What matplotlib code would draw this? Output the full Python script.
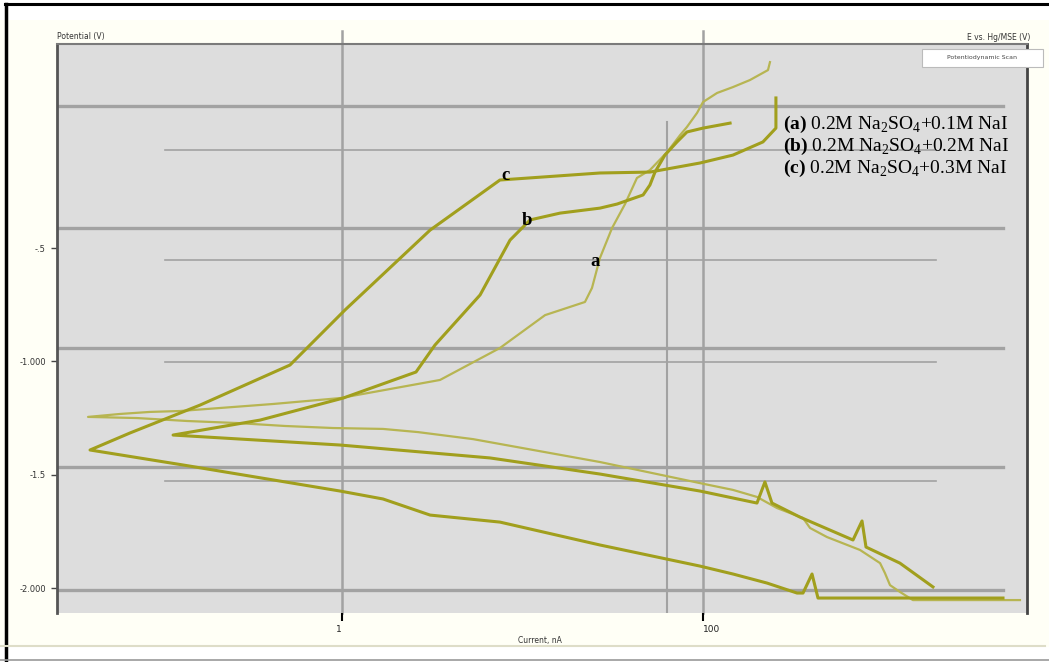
import numpy as np
import matplotlib
matplotlib.use("Agg")
import matplotlib.pyplot as plt
from matplotlib.lines import Line2D
from matplotlib.patches import Rectangle

plt.rcParams['font.family'] = ['DejaVu Sans']
plt.rcParams['mathtext.fontset'] = 'custom'
plt.rcParams['mathtext.rm'] = 'Liberation Serif'
plt.rcParams['mathtext.bf'] = 'Liberation Serif:bold'

# polarization scans: log10(current) and potential (V)
# each list runs from the cathodic end, through the corrosion point, to the anodic end
logi_a = [3.756, 3.163, 3.091, 3.036, 3.008, 2.981, 2.870, 2.687, 2.593, 2.554, 2.410, 2.299,
          2.166, 1.983, 1.429, 0.726, 0.421, 0.227, -0.050, -0.316, -0.582, -0.859, -1.136,
          -1.407, -1.230, -1.064, -0.898, -0.382, -0.011, 0.543, 0.875, 1.125, 1.346, 1.385,
          1.429, 1.496, 1.568, 1.634, 1.706, 1.801, 1.873, 1.911, 1.967, 2.000, 2.078, 2.166,
          2.260, 2.360, 2.371]
pot_a = [-2.053, -2.053, -2.017, -1.987, -1.934, -1.890, -1.832, -1.775, -1.735, -1.691, -1.647,
         -1.598, -1.567, -1.537, -1.444, -1.343, -1.312, -1.298, -1.294, -1.285, -1.272, -1.263,
         -1.250, -1.245, -1.232, -1.223, -1.219, -1.188, -1.162, -1.082, -0.941, -0.796, -0.738,
         -0.676, -0.544, -0.412, -0.306, -0.191, -0.156, -0.077, -0.002, 0.034, 0.096, 0.144,
         0.184, 0.210, 0.241, 0.285, 0.320]

logi_b = [3.274, 3.091, 2.903, 2.881, 2.831, 2.537, 2.382, 2.343, 2.299, 1.983, 1.429, 0.820,
          -0.011, -0.936, -0.454, 0.006, 0.410, 0.515, 0.765, 0.931, 1.042, 1.208, 1.429, 1.524,
          1.668, 1.706, 1.734, 1.789, 1.856, 1.911, 2.000, 2.150]
pot_b = [-1.995, -1.890, -1.819, -1.704, -1.788, -1.687, -1.625, -1.532, -1.625, -1.572, -1.497,
         -1.426, -1.369, -1.325, -1.259, -1.162, -1.047, -0.928, -0.707, -0.465, -0.376, -0.346,
         -0.324, -0.306, -0.266, -0.222, -0.165, -0.090, -0.032, 0.012, 0.029, 0.051]

logi_c = [3.662, 2.637, 2.604, 2.554, 2.521, 2.355, 2.166, 1.983, 1.429, 0.875, 0.488, 0.227,
          -0.011, -0.881, -1.396, -1.175, -0.787, -0.288, 0.017, 0.488, 0.875, 1.429, 1.706,
          1.983, 2.166, 2.332, 2.404, 2.404]
pot_c = [-2.044, -2.044, -1.938, -2.022, -2.022, -1.978, -1.938, -1.903, -1.810, -1.709, -1.678,
         -1.607, -1.572, -1.457, -1.391, -1.316, -1.193, -1.016, -0.773, -0.421, -0.200, -0.169,
         -0.165, -0.125, -0.090, -0.032, 0.029, 0.162]

legend_lines = [r"$\mathbf{(a)}$ 0.2M Na$_2$SO$_4$+0.1M NaI",
                r"$\mathbf{(b)}$ 0.2M Na$_2$SO$_4$+0.2M NaI",
                r"$\mathbf{(c)}$ 0.2M Na$_2$SO$_4$+0.3M NaI"]
yticks = [-0.5, -1.0, -1.5, -2.0]
yticklabels = ["-.5", "-1.000", "-1.5", "-2.000"]
xticks = [1, 100]
xticklabels = ["1", "100"]

W, H = 1049, 662
fig = plt.figure(figsize=(W / 100, H / 100), dpi=100)
fig.patch.set_facecolor('#fffff6')

def fx(px):
    return px / W

def fy(py):
    return 1 - py / H

# white strip at top + frame lines of the pasted picture
fig.add_artist(Rectangle((0, fy(20)), 1, 1 - fy(20), transform=fig.transFigure,
                         facecolor='white', edgecolor='none', zorder=0))
fig.add_artist(Rectangle((0, 0), 1, fy(647), transform=fig.transFigure,
                         facecolor='white', edgecolor='none', zorder=0))
fig.add_artist(Line2D([fx(5), 1], [fy(4), fy(4)], color='black', lw=2.2))
fig.add_artist(Line2D([fx(6), fx(6)], [fy(4), 0], color='black', lw=2.5))
fig.add_artist(Line2D([0, fx(1045)], [fy(646), fy(646)], color='#deddc8', lw=1.5))
fig.add_artist(Line2D([0, 1], [fy(660), fy(660)], color='#9a9a9a', lw=1.2))

ax = fig.add_axes([fx(57), fy(613), fx(1027 - 57), (613 - 44) / H])
ax.set_facecolor('#dddddd')
ax.set_xscale('log')
ax.set_xlim(10 ** -1.579, 10 ** 3.795)
ax.set_ylim(-2.110, 0.400)

grid_c = '#a2a2a2'
for e in [0.126, -0.412, -0.941, -1.466, -2.009]:
    ax.axhline(e, xmin=0, xmax=0.975, color=grid_c, lw=2.4, zorder=1)
for e in [-0.068, -0.553, -1.003, -1.528]:
    ax.axhline(e, xmin=0.111, xmax=0.906, color=grid_c, lw=1.2, zorder=1)
for xv in xticks:
    ax.axvline(xv, ymin=0, ymax=1.023, color=grid_c, lw=1.8, zorder=1, clip_on=False)
ax.axvline(63.2, ymin=0, ymax=0.863, color=grid_c, lw=1.5, zorder=1)

dark = '#a19f1d'
light = '#b7b552'
ax.plot(10 ** np.array(logi_a), pot_a, color=light, lw=1.6, zorder=3)
ax.plot(10 ** np.array(logi_b), pot_b, color=dark, lw=2.2, zorder=4)
ax.plot(10 ** np.array(logi_c), pot_c, color=dark, lw=2.2, zorder=4)

serif = ['Liberation Serif', 'DejaVu Serif']
ax.text(10 ** 1.40, -0.560, 'a', family=serif, fontweight='bold', fontsize=13.5,
        ha='center', va='center', zorder=5)
ax.text(10 ** 1.025, -0.380, 'b', family=serif, fontweight='bold', fontsize=13.5,
        ha='center', va='center', zorder=5)
ax.text(10 ** 0.905, -0.180, 'c', family=serif, fontweight='bold', fontsize=13.5,
        ha='center', va='center', zorder=5)
for k, s in enumerate(legend_lines):
    fig.text(fx(783), fy(124 + 22 * k), s, family=serif, fontsize=14,
             ha='left', va='center')

ax.spines['bottom'].set_visible(False)
ax.spines['left'].set_color('#555555')
ax.spines['left'].set_linewidth(2)
ax.spines['top'].set_color('#7a7a7a')
ax.spines['top'].set_linewidth(1.5)
ax.spines['right'].set_color('#444444')
ax.spines['right'].set_linewidth(2)

ax.set_yticks(yticks)
ax.set_yticklabels(yticklabels)
ax.set_xticks(xticks)
ax.set_xticklabels(xticklabels)
ax.minorticks_off()
ax.tick_params(axis='y', length=4, width=1, color='#444444', labelsize=6,
               labelcolor='#333333', pad=4)
ax.tick_params(axis='x', length=6, width=1.5, color='black', labelsize=6.5,
               labelcolor='#222222', pad=3, bottom=True)
xl = ax.get_xticklabels()
xl[0].set_horizontalalignment('right')
xl[1].set_horizontalalignment('left')

# tiny header texts of the instrument plot
fig.text(fx(57), fy(37), 'Potential (V)', fontsize=5.5, color='#333333', ha='left', va='center')
fig.text(fx(1030), fy(38), 'E vs. Hg/MSE (V)', fontsize=5.5, color='#333333',
         ha='right', va='center')
fig.text(fx(540), fy(640), 'Current, nA', fontsize=5.5, color='#333333', ha='center', va='center')
fig.add_artist(Rectangle((fx(922), fy(67)), fx(121), 18 / H, transform=fig.transFigure,
                         facecolor='white', edgecolor='#bbbbbb', lw=0.8, zorder=6))
fig.text(fx(982), fy(58), 'Potentiodynamic Scan', fontsize=4.5, color='#444444',
         ha='center', va='center', zorder=7)

fig.savefig('out.png', dpi=100, facecolor=fig.get_facecolor())
